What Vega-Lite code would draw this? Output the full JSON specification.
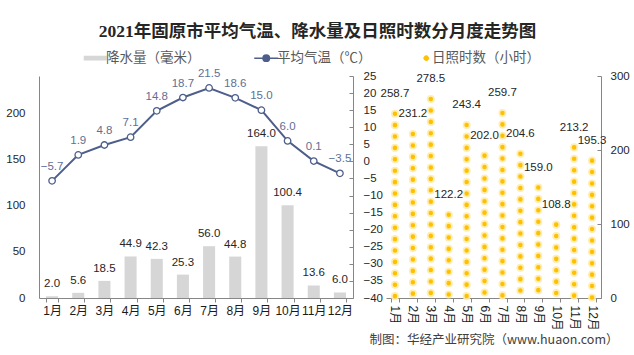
{
  "$schema": "https://vega.github.io/schema/vega-lite/v6.json",
  "padding": {"left": 5, "top": 22, "right": 5, "bottom": 5},
  "background": "white",
  "title": {"text": "2021年固原市平均气温、降水量及日照时数分月度走势图", "anchor": "middle", "font": "Liberation Serif, Noto Sans CJK SC", "fontSize": 17.5, "fontWeight": "bold", "color": "#262626", "offset": 11},
  "data": {"values": [
    {"month": "1月", "precip": 2.0, "temp": -5.7, "sun": 258.7},
    {"month": "2月", "precip": 5.6, "temp": 1.9, "sun": 231.2},
    {"month": "3月", "precip": 18.5, "temp": 4.8, "sun": 278.5},
    {"month": "4月", "precip": 44.9, "temp": 7.1, "sun": 122.2},
    {"month": "5月", "precip": 42.3, "temp": 14.8, "sun": 243.4},
    {"month": "6月", "precip": 25.3, "temp": 18.7, "sun": 202.0},
    {"month": "7月", "precip": 56.0, "temp": 21.5, "sun": 259.7},
    {"month": "8月", "precip": 44.8, "temp": 18.6, "sun": 204.6},
    {"month": "9月", "precip": 164.0, "temp": 15.0, "sun": 159.0},
    {"month": "10月", "precip": 100.4, "temp": 6.0, "sun": 108.8},
    {"month": "11月", "precip": 13.6, "temp": 0.1, "sun": 213.2},
    {"month": "12月", "precip": 6.0, "temp": -3.5, "sun": 195.3}
  ]},
  "spacing": 33,
  "bounds": "flush",
  "hconcat": [
    {
      "width": 314,
      "height": 222,
      "encoding": {
        "x": {"field": "month", "type": "ordinal", "sort": null, "scale": {"paddingInner": 0.54, "paddingOuter": 0.27},
          "axis": {"labelAngle": 0, "tickBand": "extent", "tickSize": 4, "labelPadding": 3, "labelFontSize": 12, "labelColor": "#1a1a1a", "title": null}}
      },
      "layer": [
        {
          "encoding": {
            "y": {"field": "precip", "type": "quantitative", "scale": {"domain": [0, 240], "nice": false},
              "axis": {"orient": "left", "values": [0, 50, 100, 150, 200], "ticks": false, "labelPadding": 14, "title": null}}
          },
          "layer": [
            {
              "mark": {"type": "bar", "color": "#D6D6D6"},
              "encoding": {
                "color": {"datum": "降水量（毫米）", "type": "nominal",
                  "scale": {"domain": ["降水量（毫米）", "平均气温（℃）", "日照时数（小时）"], "range": ["#D6D6D6", "#4D5E8A", "#FFC000"]},
                  "legend": {
                    "orient": "none", "legendX": 49.5, "legendY": -25, "direction": "horizontal", "title": null,
                    "symbolSize": 576, "labelFont": "Noto Sans CJK SC", "labelFontSize": 13.5, "labelColor": "#595959",
                    "labelOffset": 4, "columnPadding": 50,
                    "encode": {
                      "symbols": {"update": {
                        "shape": {"signal": "datum.value === '降水量（毫米）' ? 'M-0.96,-0.2H0.96V0.2H-0.96Z' : datum.value === '平均气温（℃）' ? 'M-1,0H-0.27M0.27,0H1M-0.27,0A0.27,0.27,0,1,1,0.27,0A0.27,0.27,0,1,1,-0.27,0' : 'M-0.45,0A0.2,0.2,0,1,1,-0.05,0A0.2,0.2,0,1,1,-0.45,0'"},
                        "fill": {"signal": "datum.value === '降水量（毫米）' ? '#D6D6D6' : datum.value === '平均气温（℃）' ? '#ffffff' : '#FFC000'"},
                        "stroke": {"signal": "datum.value === '平均气温（℃）' ? '#4D5E8A' : '#FFE08A'"},
                        "strokeWidth": {"signal": "datum.value === '降水量（毫米）' ? 0 : datum.value === '平均气温（℃）' ? 1.5 : 1"},
                        "opacity": {"value": 1},
                        "fillOpacity": {"value": 1},
                        "strokeOpacity": {"value": 1}
                      }},
                      "labels": {"update": {
                        "dx": {"signal": "datum.value === '日照时数（小时）' ? -8 : 0"}
                      }}
                    }
                  }
                }
              }
            },
            {
              "mark": {"type": "text", "dy": -12, "baseline": "middle", "font": "Liberation Sans", "fontSize": 11.5, "color": "#262626"},
              "encoding": {"text": {"field": "precip", "type": "quantitative", "format": ".1f"}}
            }
          ]
        },
        {
          "encoding": {
            "y": {"field": "temp", "type": "quantitative", "scale": {"domain": [-40, 25], "nice": false},
              "axis": {"orient": "right", "values": [-40, -35, -30, -25, -20, -15, -10, -5, 0, 5, 10, 15, 20, 25], "tickSize": -4, "labelPadding": 14, "title": null}}
          },
          "layer": [
            {
              "mark": {"type": "line", "strokeWidth": 2},
              "encoding": {"color": {"datum": "平均气温（℃）", "type": "nominal"}}
            },
            {
              "mark": {"type": "point", "filled": true, "fill": "#ffffff", "stroke": "#4D5E8A", "strokeWidth": 1.3, "size": 42, "opacity": 1},
              "encoding": {}
            },
            {
              "mark": {"type": "text", "dy": -14, "baseline": "middle", "font": "Liberation Sans", "fontSize": 11.5, "color": "#5E6F96"},
              "encoding": {"text": {"field": "temp", "type": "quantitative", "format": ".1f"}}
            }
          ]
        }
      ],
      "resolve": {"scale": {"y": "independent"}, "axis": {"y": "independent"}}
    },
    {
      "width": 215,
      "height": 222,
      "encoding": {
        "x": {"field": "month", "type": "ordinal", "sort": null, "scale": {"paddingInner": 0.54, "paddingOuter": 0.27},
          "axis": {"labelAngle": 90, "labelAlign": "left", "labelBaseline": "middle", "labelPadding": 3,
            "labelFontSize": 12, "labelColor": "#1a1a1a", "tickBand": "extent", "tickSize": 4,
            "title": "制图：华经产业研究院（www.huaon.com）", "titleY": 41, "titleBaseline": "middle", "titleFont": "Noto Sans CJK SC",
            "titleFontSize": 12.5, "titleFontWeight": "normal", "titleColor": "#404040"}}
      },
      "layer": [
        {
          "mark": {"type": "rule", "strokeDash": [0.1, 11.3], "strokeDashOffset": 4.3, "strokeCap": "round", "strokeWidth": 8, "color": "#FFEBA8", "opacity": 0.9},
          "encoding": {
            "y": {"field": "sun", "type": "quantitative", "scale": {"domain": [0, 300], "nice": false},
              "axis": {"orient": "right", "values": [0, 50, 100, 150, 200, 250, 300], "tickSize": -4, "labelPadding": 13, "title": null}},
            "y2": {"datum": 0}
          }
        },
        {
          "mark": {"type": "rule", "strokeDash": [0.1, 11.3], "strokeDashOffset": 4.3, "strokeCap": "round", "strokeWidth": 4.5, "opacity": 1},
          "encoding": {
            "y": {"field": "sun", "type": "quantitative"},
            "y2": {"datum": 0},
            "color": {"datum": "日照时数（小时）", "type": "nominal"}
          }
        },
        {
          "mark": {"type": "text", "dy": -12.5, "baseline": "middle", "font": "Liberation Sans", "fontSize": 11.5, "color": "#262626"},
          "encoding": {
            "y": {"field": "sun", "type": "quantitative"},
            "text": {"field": "sun", "type": "quantitative", "format": ".1f"}
          }
        }
      ]
    }
  ],
  "config": {
    "view": {"stroke": null},
    "axis": {"grid": false, "domainColor": "#868686", "tickColor": "#868686", "labelColor": "#262626",
      "labelFont": "Liberation Sans, Noto Sans CJK SC", "labelFontSize": 11.5, "domainWidth": 1, "tickWidth": 1}
  }
}
